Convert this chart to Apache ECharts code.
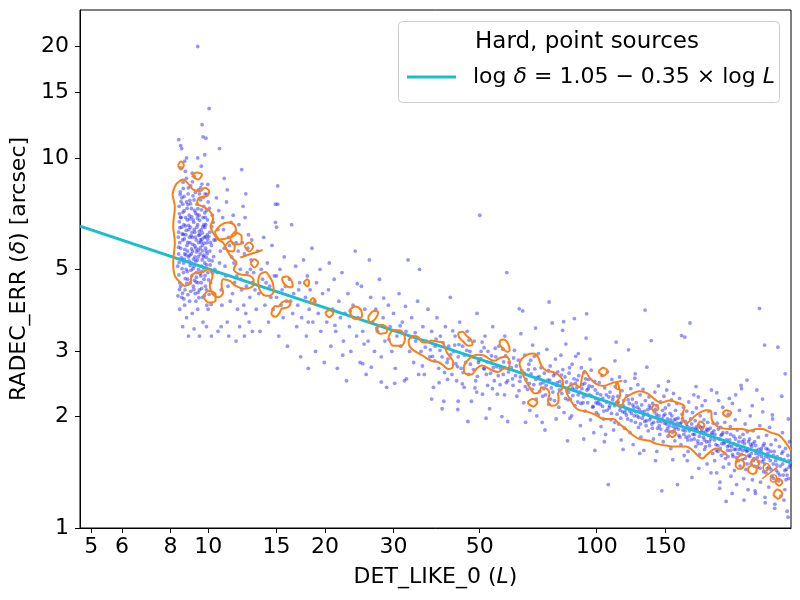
<!DOCTYPE html>
<html>
<head>
<meta charset="utf-8">
<script src="https://cdn.jsdelivr.net/npm/echarts@6.0.0/dist/echarts.min.js"></script>
<style>
  html, body { margin: 0; padding: 0; background: #fff; }
  #chart { width: 800px; height: 600px; }
</style>
</head>
<body>
<div id="chart"></div>
<script>
// axes: DET_LIKE_0 (L) vs RADEC_ERR (delta, arcsec), both log
var xTicks = [5, 6, 8, 10, 15, 20, 30, 50, 100, 150];
var yTicks = [1, 2, 3, 5, 10, 15, 20];
var xRange = [4.68, 316.2];
var yRange = [1, 25.1];

// fit line log d = 1.05 - 0.35 log L, taken at the two axis ends
var fitLike = [4.68, 316.2];
var fitErr = [6.54, 1.50];

// sources, [L, delta]
var ptsCluster = [
  [8.35,5.1],[8.4,6.3],[8.42,7.4],[8.45,4.6],[8.48,8.1],[8.5,5.7],[8.52,6.9],[8.55,4.2],[8.56,7.8],[8.58,5.3],
  [8.6,6.0],[8.62,8.6],[8.64,4.9],[8.66,6.6],[8.68,7.2],[8.7,5.5],[8.72,4.4],[8.74,9.2],[8.76,6.2],[8.78,5.0],
  [8.8,7.6],[8.82,5.8],[8.84,6.8],[8.86,4.7],[8.88,8.0],[8.9,5.4],[8.92,6.4],[8.94,7.0],[8.96,4.1],[8.98,5.9],
  [9.0,6.5],[9.02,8.4],[9.04,5.2],[9.06,7.3],[9.08,4.8],[9.1,6.1],[9.12,5.6],[9.14,7.9],[9.16,4.5],[9.18,6.7],
  [9.2,5.1],[9.22,8.9],[9.24,6.3],[9.26,4.3],[9.28,7.1],[9.3,5.7],[9.32,6.0],[9.34,4.9],[9.36,7.5],[9.38,5.3],
  [9.4,6.6],[9.42,4.6],[9.44,8.2],[9.46,5.9],[9.48,7.0],[9.5,4.4],[9.52,6.2],[9.54,5.5],[9.56,7.7],[9.58,4.8],
  [9.6,6.4],[9.62,5.1],[9.64,8.5],[9.66,5.8],[9.68,4.2],[9.7,6.9],[9.72,5.4],[9.74,7.4],[9.76,4.7],[9.78,6.1],
  [9.8,5.2],[9.82,8.0],[9.84,4.5],[9.86,6.6],[9.88,5.6],[9.9,7.2],[9.92,4.0],[9.94,5.9],[9.96,6.8],[9.98,4.9],
  [10.0,7.6],[10.05,5.3],[10.1,6.3],[10.15,4.6],[10.2,5.8],[10.25,7.0],[10.3,4.3],[10.35,6.0],[10.4,5.0],
  [8.45,5.9],[8.55,6.5],[8.65,5.2],[8.75,6.9],[8.85,5.6],[8.95,6.1],[9.05,5.5],[9.15,6.8],[9.25,5.4],[9.35,6.5],
  [9.45,5.0],[9.55,6.0],[9.65,5.3],[9.75,6.6],[9.85,5.7],[9.95,6.2],[8.5,4.5],[8.7,4.0],[9.0,4.6],[9.3,4.1],
  [9.6,4.6],[9.9,4.4],[8.6,7.5],[8.9,8.3],[9.2,7.7],[9.5,8.0],[9.8,7.1],[10.1,5.6],[10.3,6.7],[8.4,5.5],
  [8.45,3.9],[8.8,3.7],[9.1,3.8],[9.4,3.9],[9.7,3.6],[10.0,3.9],[8.5,9.4],[8.7,9.8],[9.1,9.1],[9.6,9.5],
  [9.4,20],[10.06,13.6],[9.65,12.3],[9.7,11.4],[9.87,11.3],[8.4,11.2],[8.5,10.8],[8.55,10.6],[10.7,10.6],[9.8,10.2],
  [8.8,10.0],[9.4,10.0],[8.6,3.5],[8.9,3.3],[9.2,3.45],[9.5,3.3],[9.9,3.5],[10.2,3.3],[10.6,3.4],[11.2,3.6],
  [8.43,6.72],[8.53,5.38],[8.61,7.13],[8.69,6.04],[8.77,5.47],[8.83,7.31],[8.91,6.57],[8.99,5.12],[9.07,6.93],[9.13,5.84],
  [9.21,6.41],[9.29,5.26],[9.37,7.02],[9.43,5.63],[9.51,6.78],[9.59,5.92],[9.67,6.27],[9.73,5.04],[9.81,6.49],[9.89,5.39],
  [8.47,7.96],[8.63,8.27],[8.79,8.81],[8.97,7.68],[9.11,8.62],[9.27,8.07],[9.41,7.29],[9.57,8.31],[9.71,7.83],[9.93,7.97],
  [8.41,4.83],[8.59,4.31],[8.73,4.72],[8.87,4.27],[9.03,4.97],[9.19,4.41],[9.33,4.76],[9.47,4.19],[9.63,4.93],[9.79,4.24],
  [10.02,4.68],[10.12,5.14],[10.22,6.52],[10.33,5.41],[10.08,7.31],[8.38,6.11],[8.44,7.06],[8.36,4.24],[9.98,8.48],[10.18,4.02],
  [8.39,5.74],[8.46,6.48],[8.51,7.62],[8.57,5.02],[8.63,6.21],[8.67,7.87],[8.71,5.66],[8.78,6.37],[8.81,4.58],[8.87,7.48],
  [8.93,5.27],[8.97,6.84],[9.01,7.52],[9.06,5.68],[9.09,6.29],[9.17,5.33],[9.23,7.21],[9.27,6.11],[9.31,4.62],[9.39,6.87],
  [9.44,5.41],[9.49,6.33],[9.53,4.87],[9.61,7.24],[9.66,5.61],[9.69,6.52],[9.77,5.88],[9.83,6.91],[9.91,5.14],[9.97,6.03],
  [8.42,5.22],[8.49,6.91],[8.58,6.23],[8.68,5.33],[8.74,6.55],[8.86,5.91],[8.96,5.46],[9.04,6.17],[9.14,5.02],[9.24,5.78],
  [9.34,5.57],[9.46,6.18],[9.54,5.71],[9.64,6.03],[9.74,5.46],[9.84,6.12],[9.94,5.52],[10.04,6.13],[10.14,5.91],[10.24,5.27],
  [8.44,4.41],[8.66,4.16],[8.84,4.93],[9.02,4.36],[9.22,4.67],[9.42,4.33],[9.62,4.44],[9.82,4.81],[10.06,4.28],[10.28,4.89]
];

var ptsLow = [
  [10.5,7.8],[10.6,6.4],[10.7,5.2],[10.8,4.4],[10.9,6.9],[11.0,5.7],[11.1,4.8],[11.2,8.2],[11.3,6.1],[11.4,4.1],
  [11.5,5.4],[11.6,7.0],[11.7,4.6],[11.8,5.9],[11.9,3.9],[12.0,6.6],[12.1,5.0],[12.2,4.4],[12.3,7.4],[12.4,5.5],
  [12.5,3.8],[12.6,4.9],[12.7,6.2],[12.8,4.2],[12.9,5.3],[13.0,4.6],[10.45,6.0],[10.55,4.9],[10.65,7.2],[10.75,5.6],
  [10.85,4.0],[10.95,6.4],[11.05,5.1],[11.15,7.6],[11.25,4.5],[11.35,5.8],[11.45,6.7],[11.55,4.3],[11.65,5.2],[11.75,6.3],
  [11.85,4.8],[11.95,5.6],[12.05,3.5],[12.15,4.7],[12.25,5.9],[12.35,4.0],[12.45,6.9],[12.55,4.5],[12.65,5.7],[12.75,3.6],
  [12.85,5.0],[12.95,6.0],[12.2,9.3],[12.5,8.0],[11.0,8.8],[10.8,3.5],[11.3,3.3],[11.8,3.2],[12.4,3.3],[13.0,3.4],
  [13.1,4.9],[13.3,3.9],[13.4,5.6],[13.5,4.3],[13.6,3.4],[13.8,4.7],[13.9,6.1],[14.0,4.0],[14.2,5.2],[14.3,3.6],
  [14.4,4.5],[14.6,5.8],[14.7,3.9],[14.8,4.8],[14.9,7.5],[15.0,4.2],[15.1,8.4],[15.2,3.3],[15.3,5.0],[15.5,4.4],
  [15.6,3.7],[15.7,5.4],[15.9,4.1],[16.0,3.1],[16.2,4.7],[16.4,6.6],[16.5,3.8],[16.6,4.3],[16.8,5.1],[16.9,3.5],
  [17.0,4.0],[17.2,4.6],[17.3,2.9],[17.4,3.7],[17.6,5.3],[17.8,4.2],[17.9,3.3],[18.0,4.8],[18.2,3.9],[18.3,4.4],
  [18.5,5.7],[18.6,3.6],[18.8,4.1],[18.9,3.0],[19.0,4.6],[19.2,3.8],[19.4,5.0],[19.5,3.4],[19.7,4.3],[19.9,2.8],
  [13.2,4.4],[13.7,5.0],[14.1,4.6],[14.5,4.2],[15.0,4.8],[15.4,4.0],[15.8,4.5],[16.3,4.1],[17.1,4.4],[18.1,3.6],
  [14.9,6.7],[15.0,6.5],[15.1,7.5],[18.1,2.7]
];

var ptsMid = [
  [20.2,3.6],[20.4,4.4],[20.5,5.2],[20.7,3.1],[20.9,3.9],[21.1,4.7],[21.3,3.4],[21.5,2.7],[21.7,4.1],[21.9,3.7],
  [22.1,4.9],[22.3,3.2],[22.5,3.8],[22.7,2.5],[22.9,4.3],[23.1,3.5],[23.3,3.0],[23.6,4.0],[23.9,5.6],[24.1,3.3],
  [24.3,3.7],[24.6,2.8],[24.8,4.5],[25.0,3.4],[25.3,3.9],[25.5,2.6],[25.8,3.2],[26.0,5.3],[26.2,4.2],[26.5,3.6],
  [26.8,3.0],[27.0,3.9],[27.3,3.4],[27.6,4.7],[27.9,2.9],[28.2,3.7],[28.5,3.2],[28.8,2.4],[29.1,4.0],[29.4,3.5],
  [29.7,3.0],[30.0,3.8],[30.3,2.7],[30.6,3.3],[31.0,4.3],[31.3,3.1],[31.6,3.6],[32.0,2.5],[32.3,3.4],[32.7,5.3],
  [33.0,3.0],[33.4,3.7],[33.8,2.8],[34.2,3.2],[34.6,4.1],[35.0,5.0],[34.8,2.6],
  [21.2,3.53],[23.2,3.86],[25.2,3.14],[27.2,3.47],[29.2,3.23],[31.2,3.52],[33.2,3.28],[22.2,2.93],[26.3,2.72],[30.2,2.46],
  [24.2,4.57],[28.3,4.18],[32.2,3.97],[27.9,2.48],[37.6,2.23],[32.4,2.53],[25.0,2.78],[40.0,2.1],[44.0,2.2],
  [35.3,3.0],[35.7,3.5],[36.0,2.6],[36.4,3.2],[36.8,3.9],[37.2,2.9],[37.6,3.4],[38.0,2.4],[38.4,3.1],[38.8,3.7],
  [39.2,2.7],[39.6,3.3],[40.0,2.9],[40.4,2.2],[40.8,3.5],[41.2,2.8],[41.6,3.1],[42.0,4.2],[42.4,2.6],[42.8,3.0],
  [43.2,3.3],[43.6,2.5],[44.0,2.9],[44.4,3.6],[44.8,2.7],[45.2,3.1],[45.6,2.4],[46.0,2.8],[46.4,3.4],[46.8,2.6],
  [47.2,3.0],[47.6,2.2],[48.0,2.9],[48.4,3.2],[48.8,2.5],[49.2,3.8],[49.6,2.8],[50.0,7.0],[50.4,3.0],[50.8,2.3],
  [51.2,2.7],[51.6,3.3],[52.0,2.6],[52.5,3.0],[53.0,2.1],[53.5,2.8],[54.0,3.5],[54.5,2.5],[55.0,2.9],[55.5,2.3],
  [56.0,3.1],[56.5,2.7],[57.0,2.0],[57.5,2.6],[58.0,3.3],[58.7,4.9],[59.0,2.5],[59.5,2.8],[46.6,1.94],[59.0,1.94],
  [38.3,2.83],[40.2,3.17],[42.1,2.94],[43.8,2.73],[46.3,3.02],[48.2,2.68],[50.3,2.87],[52.4,2.43],[54.2,2.71],[56.4,2.44],
  [58.3,2.92],[41.3,2.52],[43.4,2.78],[45.3,2.63],[47.4,2.91],[49.3,2.57],[51.3,3.07],[53.3,2.62],[55.3,2.73],[57.3,3.04],
  [37.3,3.03],[39.3,2.47],[44.2,3.13],[48.6,2.39],[52.2,2.81],
  [36.2,3.08],[37.8,2.91],[39.5,3.02],[41.4,2.86],[43.1,3.12],[45.7,2.93],[47.3,2.77],[49.8,2.84],[51.4,2.69],[53.6,2.92],
  [55.8,2.58],[57.6,2.81],[59.3,2.64],[34.1,3.37],[38.6,3.24],[42.6,3.41],[46.9,3.22],[50.7,3.18],[54.8,3.06],[58.5,2.47],
  [35.6,2.74],[40.6,2.63],[45.1,2.45],[49.1,2.33],[53.9,2.38],[57.9,2.29],[43.9,2.09],[51.9,1.98]
];

var ptsHigh = [
  [60.3,2.71],[60.9,2.43],[61.4,3.02],[61.8,2.58],[62.3,2.27],[62.9,2.84],[63.4,2.49],[63.8,3.35],[64.2,2.66],[64.9,2.18],
  [65.3,2.93],[65.8,2.52],[66.4,2.37],[66.9,2.77],[67.3,2.08],[67.8,2.61],[68.4,3.12],[68.9,2.44],[69.3,2.69],[69.9,2.23],
  [70.4,2.55],[70.8,2.96],[71.3,2.34],[71.9,2.71],[72.4,1.93],[72.8,2.47],[73.3,2.62],[73.9,2.29],[74.4,3.04],[74.8,2.51],
  [75.3,2.16],[75.9,2.74],[76.4,2.39],[76.8,3.58],[77.4,2.58],[77.9,2.21],[78.3,2.86],[78.8,2.43],[79.4,2.64],[79.9,2.12],
  [80.4,2.49],[80.9,2.93],[81.3,2.31],[81.8,2.68],[82.4,2.05],[82.9,2.56],[83.3,3.14],[83.8,2.37],[84.4,2.22],[84.9,2.62],
  [85.3,1.98],[85.9,2.45],[86.4,2.77],[86.8,2.28],[87.4,2.53],[87.9,2.14],[88.3,2.91],[88.8,2.39],[89.4,2.19],[89.9,2.58],
  [90.4,2.33],[90.8,1.89],[91.3,2.71],[91.9,2.44],[92.4,2.26],[92.8,2.63],[93.3,2.07],[93.9,3.26],[94.4,2.36],[94.8,2.18],
  [95.3,2.52],[95.9,2.29],[96.4,1.96],[96.8,2.67],[97.4,2.41],[97.9,2.13],[98.3,1.81],[98.8,2.49],[99.4,2.24],[99.8,2.05],
  [61.1,2.88],[63.1,2.35],[65.1,2.62],[67.1,2.46],[69.1,2.91],[71.1,2.57],[73.1,2.38],[75.1,2.66],[77.1,2.33],[79.1,2.47],
  [81.1,2.59],[83.1,2.24],[85.1,2.71],[87.1,2.36],[89.1,2.51],[91.1,2.17],[93.1,2.46],[95.1,2.38],[97.1,2.27],[99.1,2.36],
  [63.2,3.91],[69.6,3.47],[75.4,4.08],[81.7,3.42],[87.6,3.68],[65.6,1.93],[73.6,1.84],[84.1,1.72],[92.6,1.74],[98.9,1.62],
  [64.5,3.86],[82.2,3.61],[94.2,3.79],[70.1,2.01],[78.6,1.97],[86.2,2.01],[96.1,2.86],[89.7,2.96],
  [60.7,2.53],[62.1,2.74],[63.6,2.56],[65.5,2.41],[66.7,2.68],[68.2,2.37],[69.7,2.52],[71.6,2.45],[72.6,2.27],[74.1,2.43],
  [75.7,2.51],[77.2,2.46],[78.1,2.61],[80.2,2.36],[81.5,2.44],[83.6,2.48],[84.7,2.33],[86.6,2.39],[88.1,2.46],[89.6,2.29],
  [91.6,2.38],[92.2,2.18],[94.1,2.28],[95.6,2.42],[97.6,2.12],[99.6,2.18],[67.6,2.84],[76.1,2.23],[85.6,2.23],[93.6,2.53]
];

var ptsTop = [
  [100.4,2.31],[100.9,2.02],[101.5,2.47],[102.1,2.16],[102.6,1.88],[103.2,2.58],[103.7,2.24],[104.3,2.07],[104.9,2.39],[105.4,1.79],
  [106.0,2.19],[106.6,2.64],[107.1,1.31],[107.7,2.11],[108.2,2.33],[108.8,1.96],[109.4,2.52],[109.9,2.22],[110.5,1.84],[111.1,2.14],
  [111.6,2.41],[112.2,3.18],[112.8,2.03],[113.3,2.27],[113.9,1.91],[114.5,2.56],[115.0,2.12],[115.6,1.73],[116.2,2.35],[116.7,2.06],
  [117.3,2.21],[117.9,1.86],[118.4,2.49],[119.0,2.09],[119.6,2.28],[120.1,1.97],[120.7,3.03],[121.3,2.17],[121.8,1.81],[122.4,2.38],
  [123.0,2.04],[123.5,2.23],[124.1,1.68],[124.7,2.12],[125.3,2.54],[125.8,1.93],[126.4,2.18],[127.0,2.01],[127.6,2.44],[128.1,1.87],
  [128.7,2.09],[129.3,2.29],[129.9,1.76],[130.5,2.15],[131.0,1.98],[131.6,2.37],[132.2,1.62],[132.8,2.07],[133.4,2.21],[134.0,1.89],
  [134.6,2.72],[135.2,2.03],[135.7,1.83],[136.3,2.26],[136.9,1.96],[137.5,2.11],[138.1,3.21],[138.7,1.91],[139.3,2.17],[139.9,1.74],
  [140.5,2.06],[141.1,2.33],[141.7,1.52],[142.3,1.99],[142.9,2.14],[143.5,1.86],[144.1,2.42],[144.7,2.01],[145.3,1.79],[145.9,2.19],
  [146.5,1.94],[147.1,1.26],[147.7,2.08],[148.3,1.71],[148.9,2.27],[149.6,1.92],[150.2,2.11],[150.8,1.83],[151.4,2.36],[152.0,1.97],
  [152.6,1.77],[153.3,2.15],[153.9,1.89],[154.5,2.04],[155.1,1.64],[155.8,2.22],[156.4,1.93],[157.0,1.81],[157.6,2.31],[158.3,1.96],
  [158.9,1.72],[159.5,2.08],[160.2,1.87],[160.8,2.17],[161.4,1.31],[162.1,1.98],[162.7,1.78],[163.4,2.24],[164.0,1.91],[164.7,1.68],
  [165.3,3.31],[165.9,2.03],[166.6,1.84],[167.2,2.12],[167.9,1.57],[168.5,3.28],[169.2,1.94],[169.8,1.76],[170.5,2.07],[171.2,1.88],
  [171.8,1.61],[172.5,2.19],[173.1,1.83],[173.8,3.58],[174.5,1.97],[175.1,1.73],[175.8,1.37],[176.5,2.05],[177.1,1.86],[177.8,2.29],
  [178.5,1.79],[179.2,1.95],[179.8,1.66],[180.5,2.11],[181.2,1.84],[181.9,1.72],[182.6,2.26],[183.3,1.89],[183.9,1.58],[184.6,2.01],
  [185.3,1.81],[186.0,1.69],[186.7,2.14],[187.4,1.87],[188.1,1.76],[188.8,1.96],[189.5,1.63],[190.2,2.21],[190.9,1.82],[191.6,1.71],
  [192.3,1.49],[193.0,1.93],[193.7,1.78],[194.5,2.07],[195.2,1.67],[195.9,1.86],[196.6,1.74],[197.3,2.36],[198.1,1.81],[198.8,1.59],
  [199.5,1.92],
  [101.2,2.21],[103.5,2.13],[105.8,2.29],[108.0,2.14],[110.2,2.26],[112.5,2.18],[114.8,2.08],[117.0,2.14],[119.3,2.02],[121.6,2.07],
  [123.8,2.15],[126.1,2.06],[128.4,1.99],[130.7,2.06],[133.0,1.94],[135.4,2.09],[137.7,1.99],[140.1,1.93],[142.5,2.03],[144.9,1.89],
  [147.3,1.97],[149.8,2.03],[152.3,1.86],[154.8,1.96],[157.3,1.88],[159.8,1.97],[162.4,1.85],[165.0,1.93],[167.6,1.79],[170.2,1.91],
  [172.8,1.77],[175.5,1.91],[178.2,1.74],[180.9,1.88],[183.6,1.77],[186.4,1.84],[189.2,1.73],[192.0,1.85],[194.8,1.71],[197.7,1.79],
  [104.6,1.71],[116.9,1.63],[129.0,1.59],[142.8,1.61],[156.9,1.53],[171.0,1.52],[183.1,1.45],[196.8,1.41],[133.2,3.88],[111.4,2.83],
  [125.6,2.61],[152.9,2.49],[180.1,2.41],
  [100.7,2.17],[102.4,2.29],[104.1,1.97],[106.3,2.08],[107.4,2.26],[109.1,2.04],[111.3,1.93],[113.6,2.19],[115.3,1.98],[118.1,2.05],
  [120.4,2.22],[122.7,1.95],[125.0,2.01],[127.3,2.12],[129.6,1.91],[131.9,2.02],[134.3,1.95],[136.6,2.14],[139.0,1.86],[141.4,2.09],
  [143.8,1.94],[146.2,1.85],[148.6,2.01],[151.1,1.91],[153.6,1.82],[156.1,2.01],[158.6,1.84],[161.1,1.92],[163.7,1.76],[166.3,1.97],
  [168.9,1.83],[171.5,1.73],[174.2,1.86],[176.9,1.79],[179.6,1.85],[182.3,1.69],[185.0,1.87],[187.8,1.81],[190.6,1.66],[193.4,1.84],
  [200.3,1.83],[201.1,1.52],[201.9,2.04],[202.7,1.68],[203.5,1.41],[204.3,1.92],[205.1,1.61],[205.9,2.21],[206.8,1.74],[207.6,1.33],
  [208.4,1.87],[209.3,1.57],[210.1,1.79],[211.0,2.12],[211.8,1.46],[212.7,1.69],[213.6,1.93],[214.4,1.54],[215.3,1.18],[216.2,1.81],
  [217.1,1.62],[218.0,2.03],[218.9,1.49],[219.8,1.73],[220.7,1.88],[221.6,1.38],[222.5,1.66],[223.4,2.17],[224.4,1.56],[225.3,1.77],
  [226.2,1.43],[227.2,1.96],[228.1,1.63],[229.1,1.31],[230.0,1.84],[231.0,1.59],[232.0,1.71],[233.0,2.08],[233.9,1.47],[234.9,1.65],
  [235.9,2.38],[236.9,1.53],[237.9,1.79],[238.9,1.36],[240.0,1.69],[241.0,1.91],[242.0,1.44],[243.1,1.61],[244.1,1.82],[245.2,1.27],
  [246.2,1.57],[247.3,1.74],[248.4,2.01],[249.5,1.49],[250.5,1.66],[251.6,1.35],[252.7,1.83],[253.8,1.54],[254.9,1.71],[256.1,1.24],
  [257.2,1.62],[258.3,2.36],[259.4,1.46],[260.6,1.76],[261.7,1.58],[262.9,1.89],[264.0,1.33],[265.2,1.64],[266.4,1.51],[267.6,2.06],
  [268.7,1.42],[269.9,1.69],[271.1,1.21],[272.3,1.56],[273.6,1.78],[274.8,1.45],[276.0,1.63],[277.2,1.29],[278.5,1.87],[279.7,1.52],
  [281.0,1.68],[282.2,1.38],[283.5,1.97],[284.8,1.49],[286.1,1.61],[287.4,1.16],[288.7,1.73],[290.0,1.43],[291.3,1.56],[292.6,3.08],
  [293.9,1.34],[295.3,1.66],[296.6,1.47],[297.9,1.22],[299.3,1.59],[300.7,1.81],[302.0,1.39],[303.4,1.53],[304.8,1.27],[306.2,1.64],
  [307.6,1.44],[309.0,1.11],[310.4,1.57],[311.8,1.36],[313.2,1.71],[314.6,1.48],
  [200.9,1.73],[204.9,1.67],[208.9,1.78],[212.9,1.71],[216.9,1.66],[220.9,1.62],[224.9,1.69],[228.9,1.55],[232.9,1.63],[236.9,1.71],
  [240.9,1.54],[244.9,1.62],[248.9,1.68],[252.9,1.52],[256.9,1.59],[260.9,1.51],[264.9,1.61],[268.9,1.53],[272.9,1.64],[276.9,1.55],
  [280.9,1.44],[284.9,1.57],[288.9,1.52],[292.9,1.41],[296.9,1.54],[300.9,1.49],[304.9,1.43],[308.9,1.39],[312.9,1.46],
  [203.7,2.32],[219.4,2.24],[235.2,2.43],[251.3,2.14],[267.1,2.23],[283.2,2.02],[299.4,2.27],[311.3,1.97],
  [207.2,1.28],[223.1,1.24],[239.4,1.19],[255.6,1.26],[271.4,1.17],[287.2,1.13],[303.3,1.19],[310.8,1.07],
  [262.3,3.92],[270.4,3.12],[305.5,2.61],[243.6,2.51],[227.9,2.29],
  [201.5,1.79],[203.1,1.62],[205.6,1.85],[207.9,1.64],[209.8,1.69],[211.4,1.81],[213.2,1.59],[215.8,1.73],[217.6,1.56],[219.2,1.67],
  [221.2,1.79],[223.7,1.58],[225.8,1.63],[227.6,1.74],[229.6,1.67],[231.6,1.52],[233.5,1.76],[235.5,1.58],[237.5,1.62],[239.5,1.73],
  [241.6,1.63],[243.7,1.49],[245.8,1.71],[247.9,1.56],[250.0,1.59],[252.2,1.69],[254.4,1.47],[256.6,1.67],[258.8,1.55],[261.1,1.63],
  [263.4,1.45],[265.7,1.56],[268.1,1.67],[270.5,1.49],[272.9,1.41],[275.3,1.59],[277.8,1.46],[280.3,1.61],[285.4,1.36],[290.6,1.48],
  [295.9,1.39],[301.4,1.61],[306.9,1.35],[312.2,1.52]
];

// 68% density contours, [L, delta] vertices
var contourCluster = [
  [8.37,8.59],[8.62,8.74],[8.88,8.52],[9.15,8.21],[9.52,8.13],[9.81,8.30],[10.06,8.13],[9.91,7.88],[9.48,7.80],[9.37,7.53],
  [9.71,7.38],[10.1,7.18],[10.3,6.85],[10.14,6.54],[10.3,6.28],[10.61,6.02],[10.93,5.90],[11.15,5.66],[11.49,5.38],[11.83,5.21],
  [11.64,5.00],[12.06,4.85],[12.8,4.80],[13.1,4.65],[13.0,4.49],[12.4,4.43],[11.78,4.51],[11.37,4.65],[10.93,4.70],[10.83,4.51],
  [10.93,4.33],[10.61,4.20],[10.3,4.28],[10.1,4.51],[10.26,4.80],[10.0,5.00],[9.68,4.92],[9.34,4.90],[9.06,4.80],[9.01,4.60],
  [8.71,4.51],[8.49,4.60],[8.21,4.80],[8.13,5.21],[8.21,5.90],[8.13,6.54],[8.21,7.38],[8.10,7.96],[8.26,8.47],[8.37,8.59]
];
var contourBandRight = [
  [216.8,1.57],[202.8,1.64],[192.3,1.58],[187,1.54],[181.9,1.57],[176.6,1.62],[169.8,1.66],[159.9,1.66],[150.9,1.67],[142.2,1.69],
  [136.6,1.72],[128.8,1.74],[124.0,1.78],[119.1,1.85],[114.4,1.91],[110.3,1.97],[104.1,1.97],[99.7,2.02],[94.9,2.06],[89.4,2.09],
  [86.0,2.20],[83.4,2.36],[84.3,2.40],[87.7,2.45],[90.3,2.40],[91.8,2.57],[93.0,2.66],[95.8,2.55],[99.7,2.45],[104.0,2.42],
  [112.0,2.48],[114.0,2.42],[114.9,2.28],[112.3,2.18],[115.5,2.14],[118.6,2.25],[123.7,2.31],[128.8,2.34],[135.0,2.31],[140.8,2.23],
  [146.3,2.18],[153.8,2.21],[161.3,2.18],[168.1,2.13],[166.1,2.00],[169.8,1.92],[180.3,2.02],[191.5,2.08],[197.2,2.06],[197.6,1.97],
  [206.8,1.87],[223.5,1.85],[236.9,1.85],[247,1.83],[257,1.85],[266.6,1.85],[281.1,1.81],[295,1.78],[307.9,1.69],[316,1.62]
];
var contourBandMid = [
  [64.0,2.86],[66.2,2.94],[68.6,2.96],[70.6,2.9],[72.0,2.75],[74.3,2.66],[77.2,2.64],[79.5,2.6],[81.8,2.5],[81.5,2.38],
  [79.5,2.31],[79.8,2.23],[78.6,2.15],[76.4,2.14],[74.9,2.21],[75.6,2.31],[74.3,2.38],[72.0,2.4],[71.3,2.33],[69.3,2.31],
  [67.2,2.4],[65.3,2.53],[64.0,2.66],[63.3,2.78],[64.0,2.86]
];
var contourLoops = [
  // around the bright cluster
  [[8.36,9.53],[8.51,9.78],[8.66,9.59],[8.51,9.3]],
  [[9.08,8.96],[9.36,9.13],[9.64,9.02],[9.42,8.74]],
  [[10.4,6.29],[10.75,6.57],[11.2,6.69],[11.7,6.57],[11.8,6.25],[11.3,6.09],[10.75,6.02]],
  [[11.4,6.06],[11.7,6.29],[12.2,6.13],[12.15,5.87],[11.65,5.84]],
  [[11.05,5.77],[11.4,5.95],[11.7,5.8],[11.6,5.59],[11.2,5.63]],
  [[12.4,5.77],[12.75,5.91],[13.05,5.77],[12.75,5.59]],
  [[12.85,5.19],[13.15,5.32],[13.45,5.22],[13.15,5.06]],
  [[9.7,4.23],[10.04,4.37],[10.45,4.28],[10.45,4.12],[10.04,4.07]],
  // along the band, L 13-60
  [[13.6,4.85],[14.05,4.92],[14.35,4.8],[14.65,4.61],[14.75,4.37],[14.35,4.24],[13.9,4.26],[13.55,4.42],[13.45,4.65]],
  [[15.5,4.75],[15.95,4.78],[16.4,4.65],[16.5,4.51],[16.2,4.47],[15.6,4.61]],
  [[14.65,3.9],[14.9,3.98],[15.15,3.97],[15.5,4.07],[15.95,4.11],[16.3,4.03],[15.95,3.94],[15.5,3.92],[15.25,3.81],[14.9,3.72],[14.55,3.79]],
  [[17.6,4.6],[18.0,4.7],[18.2,4.6],[18.0,4.5]],
  [[18.3,4.1],[18.6,4.18],[18.9,4.1],[18.6,4.03]],
  [[20.0,3.81],[20.5,3.88],[21.0,3.81],[20.5,3.71]],
  [[23.2,3.9],[23.9,3.97],[24.75,3.88],[24.9,3.74],[24.0,3.67],[23.3,3.77]],
  [[25.8,3.71],[26.7,3.86],[27.4,3.83],[26.9,3.67],[26.1,3.6]],
  [[27.0,3.45],[27.9,3.54],[28.9,3.47],[28.7,3.37],[27.7,3.35]],
  [[29.1,3.28],[30.0,3.43],[31.4,3.41],[32.1,3.24],[31.4,3.11],[29.9,3.11]],
  [[32.9,3.24],[33.8,3.3],[34.7,3.28],[35.4,3.19],[36.5,3.17],[37.6,3.21],[38.7,3.19],[40.0,3.18],[40.7,3.08],[41.1,2.99],
   [41.9,2.9],[42.7,2.81],[42.6,2.72],[41.5,2.69],[40.3,2.75],[39.1,2.81],[37.9,2.82],[36.8,2.86],[35.7,2.92],[34.7,2.97],
   [33.8,3.02],[33.1,3.08],[32.8,3.18]],
  [[44.0,3.37],[45.2,3.39],[46.2,3.31],[47.6,3.21],[47.9,3.13],[46.7,3.11],[45.3,3.19],[44.2,3.28]],
  [[46.2,2.81],[47.6,2.9],[49.5,2.94],[51.5,2.92],[53.0,2.86],[54.6,2.83],[56.3,2.88],[58.6,2.9],[59.7,2.81],[59.5,2.72],
   [57.4,2.69],[55.7,2.64],[54.1,2.66],[52.0,2.72],[50.5,2.75],[49.0,2.69],[47.6,2.6],[46.0,2.61],[45.5,2.72]],
  [[56.3,3.21],[57.6,3.23],[59.1,3.15],[59.7,3.02],[58.8,2.99],[57.4,3.06],[56.3,3.13]],
  // L 60-316
  [[66.3,2.18],[68.3,2.23],[70.4,2.19],[68.7,2.13]],
  [[101,2.64],[103.8,2.71],[106.6,2.66],[104.4,2.58]],
  [[138.2,2.1],[140.8,2.15],[144.2,2.11],[141.6,2.07]],
  [[152.9,1.8],[156.4,1.83],[160.2,1.8],[156.4,1.76]],
  [[181.6,1.89],[184.8,1.94],[189.2,1.9],[186,1.85]],
  [[210.6,2.04],[215.6,2.08],[222,2.05],[216.8,2.0]],
  [[284.6,1.23],[291.6,1.27],[300.4,1.24],[293.3,1.2]],
  [[288,1.33],[293.3,1.36],[300.4,1.33],[295,1.3]]
];
var contourOpen = [
  [[12.1,5.38],[13.8,5.64]],
  [[116.4,2.5],[112.5,2.47],[111.9,2.39],[114.4,2.37]]
];

var FONT = 'DejaVu Sans';
var BLUE = 'rgba(0,0,255,0.52)';
var ORANGE = '#ff7f0e';
var CYAN = '#17becf';

function lg(p) {
  return [Math.log10(p[0]), Math.log10(p[1])];
}

function contourSeries(pts, closed) {
  var d = pts.map(lg);
  if (closed) d.push(d[0]);
  return {
    type: 'line',
    data: d,
    smooth: 0.35,
    showSymbol: false,
    silent: true,
    z: 4,
    lineStyle: { color: ORANGE, width: 2 }
  };
}

var chart = echarts.init(document.getElementById('chart'), null, { renderer: 'canvas' });

var allPts = ptsCluster.concat(ptsLow, ptsMid, ptsHigh, ptsTop);

var series = [{
  type: 'scatter',
  data: allPts.map(lg),
  symbolSize: 3.8,
  silent: true,
  z: 2,
  itemStyle: { color: BLUE }
}];

series.push(contourSeries(contourCluster, false));
series.push(contourSeries(contourBandMid, false));
series.push(contourSeries(contourBandRight, false));
contourLoops.forEach(function (c) { series.push(contourSeries(c, true)); });
contourOpen.forEach(function (c) { series.push(contourSeries(c, false)); });

series.push({
  type: 'line',
  data: [lg([fitLike[0], fitErr[0]]), lg([fitLike[1], fitErr[1]])],
  showSymbol: false,
  silent: true,
  z: 3,
  lineStyle: { color: CYAN, width: 3 }
});

var option = {
  animation: false,
  backgroundColor: '#fff',
  grid: {
    left: 80, right: 9, top: 10, bottom: 72,
    show: true, borderColor: '#000', borderWidth: 1,
    outerBoundsMode: 'none'
  },
  xAxis: {
    type: 'value',
    min: Math.log10(xRange[0]),
    max: Math.log10(xRange[1]),
    name: 'DET_LIKE_0 ({i|L})',
    nameLocation: 'middle',
    nameGap: 38,
    nameTextStyle: {
      fontFamily: FONT, fontSize: 22, color: '#000',
      rich: { i: { fontFamily: FONT, fontSize: 22, fontStyle: 'italic', color: '#000' } }
    },
    splitLine: { show: false },
    axisLine: { onZero: false, lineStyle: { color: '#000', width: 1 } },
    axisTick: { length: 5, lineStyle: { color: '#000' }, customValues: xTicks.map(Math.log10) },
    axisLabel: {
      customValues: xTicks.map(Math.log10),
      formatter: function (v) { return String(Math.round(Math.pow(10, v))); },
      fontFamily: FONT, fontSize: 22, color: '#000', margin: 8
    }
  },
  yAxis: {
    type: 'value',
    min: Math.log10(yRange[0]),
    max: Math.log10(yRange[1]),
    name: 'RADEC_ERR ({i|δ}) [arcsec]',
    nameLocation: 'middle',
    nameGap: 47,
    nameTextStyle: {
      fontFamily: FONT, fontSize: 22, color: '#000',
      rich: { i: { fontFamily: FONT, fontSize: 22, fontStyle: 'italic', color: '#000' } }
    },
    splitLine: { show: false },
    axisLine: { onZero: false, lineStyle: { color: '#000', width: 1 } },
    axisTick: { length: 5, lineStyle: { color: '#000' }, customValues: yTicks.map(Math.log10) },
    axisLabel: {
      customValues: yTicks.map(Math.log10),
      formatter: function (v) { return String(Math.round(Math.pow(10, v))); },
      fontFamily: FONT, fontSize: 22, color: '#000', margin: 11
    }
  },
  series: series,
  graphic: [
    {
      type: 'rect', z: 100,
      shape: { x: 398.5, y: 21.5, width: 381, height: 81, r: 4 },
      style: { fill: 'rgba(255,255,255,0.8)', stroke: '#cccccc', lineWidth: 1 }
    },
    {
      type: 'text', z: 101, x: 587, y: 42,
      style: {
        text: 'Hard, point sources', fill: '#000',
        fontFamily: FONT, fontSize: 23, align: 'center', verticalAlign: 'middle'
      }
    },
    {
      type: 'line', z: 101,
      shape: { x1: 407, y1: 77, x2: 456, y2: 77 },
      style: { stroke: CYAN, lineWidth: 3 }
    },
    {
      type: 'text', z: 101, x: 473, y: 77,
      style: {
        text: '{n|log }{i|δ}{n| = 1.05 − 0.35 × log }{i|L}',
        fill: '#000', align: 'left', verticalAlign: 'middle',
        rich: {
          n: { fontFamily: FONT, fontSize: 22, fill: '#000' },
          i: { fontFamily: FONT, fontSize: 22, fontStyle: 'italic', fill: '#000' }
        }
      }
    },
    {
      type: 'text', z: 50, x: 756, y: 470, rotation: -0.37,
      style: {
        text: '68%', fill: ORANGE, fontFamily: FONT, fontSize: 22,
        align: 'center', verticalAlign: 'middle'
      }
    }
  ]
};

chart.setOption(option);
</script>
</body>
</html>
